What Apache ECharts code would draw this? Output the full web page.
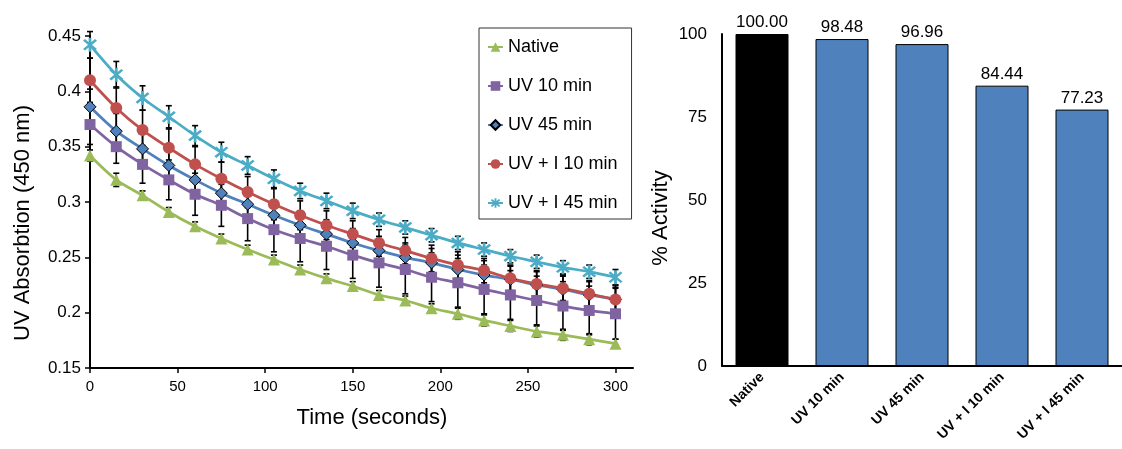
<!DOCTYPE html>
<html>
<head>
<meta charset="utf-8">
<script src="https://cdn.jsdelivr.net/npm/echarts@6/dist/echarts.min.js"></script>
<style>html,body{margin:0;padding:0;background:#fff}#c{width:1122px;height:449px}</style>
</head>
<body>
<div id="c"></div>
<script>
// ---- Left chart data ----
const time = [0,15,30,45,60,75,90,105,120,135,150,165,180,195,210,225,240,255,270,285,300];
const seriesNames = ['Native','UV 10 min','UV 45 min','UV + I 10 min','UV + I 45 min'];
const native = [0.342,0.320,0.306,0.291,0.278,0.267,0.257,0.248,0.239,0.231,0.224,0.216,0.211,0.204,0.199,0.193,0.188,0.183,0.180,0.176,0.172];
const uv10   = [0.370,0.350,0.334,0.320,0.307,0.297,0.285,0.275,0.267,0.260,0.252,0.245,0.239,0.232,0.227,0.221,0.216,0.211,0.206,0.202,0.199];
const uv45   = [0.386,0.364,0.348,0.333,0.320,0.308,0.298,0.288,0.279,0.271,0.263,0.256,0.250,0.245,0.239,0.234,0.230,0.225,0.221,0.216,0.212];
const uvi10  = [0.410,0.385,0.365,0.349,0.334,0.321,0.309,0.298,0.288,0.279,0.271,0.263,0.256,0.249,0.243,0.238,0.231,0.226,0.222,0.217,0.212];
const uvi45  = [0.442,0.415,0.394,0.377,0.360,0.345,0.333,0.321,0.310,0.301,0.292,0.284,0.277,0.270,0.263,0.257,0.251,0.246,0.241,0.237,0.232];
// error (± half-range) per point
const errNative = [0.005,0.006,0.004,0.004,0.004,0.004,0.004,0.004,0.004,0.004,0.004,0.004,0.004,0.004,0.005,0.005,0.005,0.005,0.005,0.005,0.004];
const errUv10   = [0.018,0.015,0.017,0.018,0.019,0.019,0.020,0.020,0.021,0.021,0.021,0.022,0.022,0.022,0.022,0.022,0.022,0.022,0.022,0.022,0.023];
const errUv45   = [0.016,0.016,0.015,0.015,0.015,0.014,0.014,0.014,0.013,0.013,0.013,0.013,0.013,0.013,0.013,0.013,0.013,0.013,0.013,0.013,0.013];
const errUvi10  = [0.020,0.019,0.018,0.017,0.016,0.015,0.014,0.014,0.013,0.013,0.012,0.012,0.012,0.012,0.012,0.011,0.011,0.011,0.011,0.011,0.011];
const errUvi45  = [0.012,0.012,0.011,0.010,0.009,0.009,0.008,0.008,0.007,0.007,0.007,0.006,0.006,0.006,0.006,0.006,0.006,0.006,0.006,0.006,0.007];
const xTicks = [0,50,100,150,200,250,300];

// ---- Right chart data ----
const barCategories = ['Native','UV 10 min','UV 45 min','UV + I 10 min','UV + I 45 min'];
const activity = [100.00, 98.48, 96.96, 84.44, 77.23];

const FONT = '"Liberation Sans", Arial, sans-serif';
const starPath = 'path://M-8.2,-5.9 L-5.9,-8.2 L8.2,5.9 L5.9,8.2 Z M-5.9,8.2 L-8.2,5.9 L5.9,-8.2 L8.2,-5.9 Z M-1.6,-10 L1.6,-10 L1.6,10 L-1.6,10 Z';

const lineDefs = [
  {name: seriesNames[0], data: native, err: errNative, color: '#9BBB59', symbol: 'triangle', size: 12, border: null},
  {name: seriesNames[1], data: uv10,   err: errUv10,   color: '#8064A2', symbol: 'rect', size: 11, border: null},
  {name: seriesNames[2], data: uv45,   err: errUv45,   color: '#4F81BD', symbol: 'diamond', size: 12, border: '#000'},
  {name: seriesNames[3], data: uvi10,  err: errUvi10,  color: '#C0504D', symbol: 'circle', size: 12, border: null},
  {name: seriesNames[4], data: uvi45,  err: errUvi45,  color: '#4BACC6', symbol: starPath, size: 14, border: null}
];

function renderErr(params, api) {
  const x = api.value(0), y = api.value(1), e = api.value(2);
  const top = api.coord([x, y + e]);
  const bot = api.coord([x, y - e]);
  const cap = 3;
  const st = {stroke: '#000', lineWidth: 1.6};
  return {type: 'group', children: [
    {type: 'line', shape: {x1: top[0], y1: top[1], x2: bot[0], y2: bot[1]}, style: st},
    {type: 'line', shape: {x1: top[0] - cap, y1: top[1], x2: top[0] + cap, y2: top[1]}, style: st},
    {type: 'line', shape: {x1: bot[0] - cap, y1: bot[1], x2: bot[0] + cap, y2: bot[1]}, style: st}
  ]};
}

const series = [];
lineDefs.forEach(d => {
  series.push({
    type: 'custom', name: d.name + ' err', xAxisIndex: 0, yAxisIndex: 0, z: 1,
    renderItem: renderErr, encode: {x: 0, y: 1},
    data: time.map((t, i) => [t, d.data[i], d.err[i]]), silent: true
  });
});
lineDefs.forEach(d => {
  series.push({
    type: 'line', name: d.name, xAxisIndex: 0, yAxisIndex: 0, z: 3,
    data: time.map((t, i) => [t, d.data[i]]),
    smooth: 0.3, symbol: d.symbol, symbolSize: d.size, showSymbol: true,
    lineStyle: {color: d.color, width: 2.75},
    itemStyle: {color: d.color, borderColor: d.border || d.color, borderWidth: d.border ? 1 : 0, opacity: 1},
    emphasis: {disabled: true}
  });
});
series.push({
  type: 'bar', xAxisIndex: 1, yAxisIndex: 1, data: activity, barWidth: 53,
  itemStyle: {color: p => p.dataIndex === 0 ? '#000000' : '#4F81BD', borderColor: '#000', borderWidth: 1},
  label: {show: true, position: 'top', distance: 3, color: '#000', fontSize: 17, fontFamily: FONT,
          formatter: p => p.value.toFixed(2)}
});

const chart = echarts.init(document.getElementById('c'), null, {renderer: 'canvas'});
chart.setOption({
  animation: false,
  backgroundColor: '#fff',
  textStyle: {fontFamily: FONT},
  grid: [
    {left: 90, top: 36, width: 543, height: 332},
    {left: 722, top: 34, width: 410, height: 332}
  ],
  legend: {
    data: seriesNames, orient: 'vertical', left: 479, top: 28,
    padding: [10, 14, 7, 8], itemGap: 21, itemWidth: 15, itemHeight: 12,
    borderColor: '#333', borderWidth: 1, backgroundColor: '#fff',
    textStyle: {fontSize: 18, color: '#000', fontFamily: FONT}
  },
  xAxis: [
    {type: 'value', gridIndex: 0, min: 0, max: 310, interval: 50,
     name: 'Time (seconds)', nameLocation: 'middle', nameGap: 39,
     nameTextStyle: {fontSize: 22, color: '#000', fontFamily: FONT, padding: [0, 0, 0, 21]},
     axisLine: {show: true, onZero: false, lineStyle: {color: '#000', width: 2}},
     axisTick: {show: true, inside: false, length: 5, lineStyle: {color: '#000', width: 1.5}, customValues: xTicks},
     axisLabel: {fontSize: 15, color: '#000', margin: 11, customValues: xTicks},
     splitLine: {show: false}},
    {type: 'category', gridIndex: 1, data: barCategories,
     axisLine: {show: true, lineStyle: {color: '#000', width: 2}},
     axisTick: {show: false},
     axisLabel: {rotate: 45, fontSize: 14, fontWeight: 'bold', color: '#000', margin: 9, interval: 0},
     splitLine: {show: false}}
  ],
  yAxis: [
    {type: 'value', gridIndex: 0, min: 0.15, max: 0.45, interval: 0.05,
     name: 'UV Absorbtion (450 nm)', nameLocation: 'middle', nameGap: 56,
     nameTextStyle: {fontSize: 22, color: '#000', fontFamily: FONT, padding: [0, 42, 0, 0]},
     axisLine: {show: true, onZero: false, lineStyle: {color: '#000', width: 2}},
     axisTick: {show: true, inside: false, length: 5, lineStyle: {color: '#000', width: 1.5}},
     axisLabel: {fontSize: 17, color: '#000', margin: 9},
     splitLine: {show: false}},
    {type: 'value', gridIndex: 1, min: 0, max: 100, interval: 25,
     name: '% Activity', nameLocation: 'middle', nameGap: 50,
     nameTextStyle: {fontSize: 22, color: '#000', fontFamily: FONT, padding: [0, 36, 0, 0]},
     axisLine: {show: true, lineStyle: {color: '#000', width: 2}},
     axisTick: {show: false},
     axisLabel: {fontSize: 17, color: '#000', margin: 15},
     splitLine: {show: false}}
  ],
  series: series
});
</script>
</body>
</html>
